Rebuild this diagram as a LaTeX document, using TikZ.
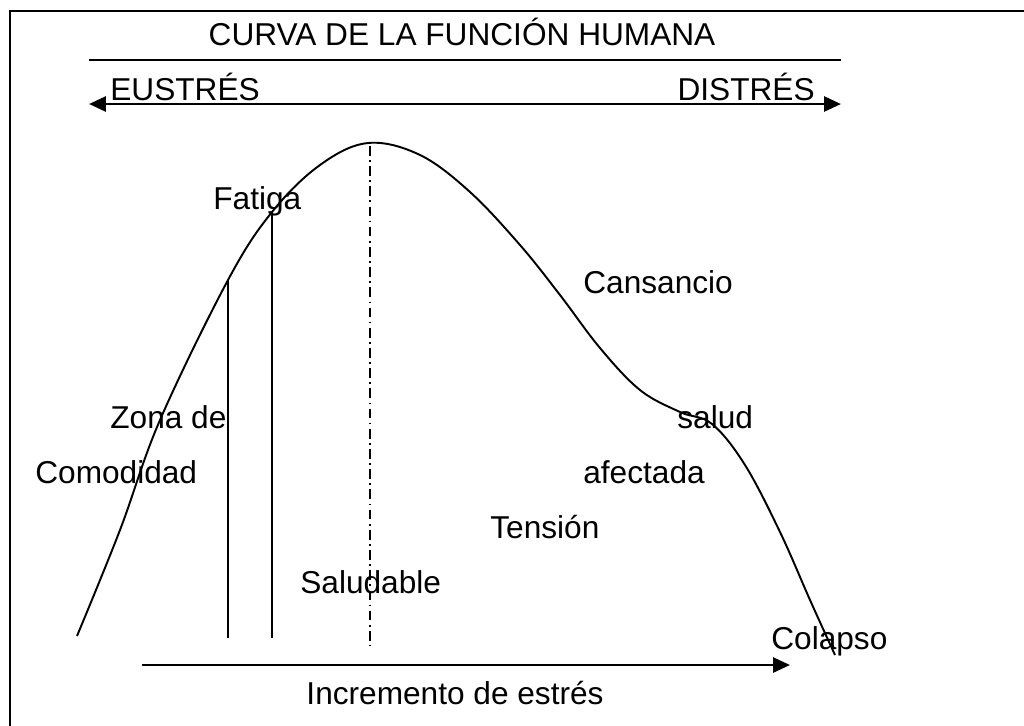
\documentclass[tikz,border=0pt]{standalone}
\usepackage{fontspec}
\setmainfont{Liberation Sans}
\usetikzlibrary{arrows.meta}

\begin{document}
\begin{tikzpicture}
      [x=0.02cm, y=-0.02cm,
      label/.style={inner sep=0pt, anchor=base west, font=\fontsize{18}{21}\selectfont},
      heading/.style={label, anchor=base},
      bigarrow/.style={line width=1.6pt, -{Triangle[length=0.34cm, width=0.3cm]}},
      marker/.style={line width=0.85pt},
      axisline/.style={line width=0.8pt, dash pattern=on 5.5pt off 2.5pt on 1pt off 2.5pt}]
      \useasboundingbox (0,0) rectangle (1024,725);
      \draw [line width=1.2pt] (10,11) rectangle (1040,745);
      % Place nodes
      \node [heading] (title) at (462,45) {CURVA DE LA FUNCIÓN HUMANA};
      \node [label] (eu) at (110,100) {EUSTRÉS};
      \node [label, anchor=base east] (dis) at (815,100) {DISTRÉS};
      \node [label] (fatiga) at (213,209) {Fatiga};
      \node [label] (cansancio) at (583,293) {Cansancio};
      \node [label] (zona) at (110,428) {Zona de};
      \node [label] (comodidad) at (35,483) {Comodidad};
      \node [label] (salud) at (677,428) {salud};
      \node [label] (afectada) at (583,483) {afectada};
      \node [label] (tension) at (490,538) {Tensión};
      \node [label] (saludable) at (300,593) {Saludable};
      \node [label] (colapso) at (771,649) {Colapso};
      \node [heading] (incremento) at (455,704) {Incremento de estrés};
      \coordinate (rulel) at (89,60);
      \coordinate (ruler) at (841,60);
      \coordinate (eul) at (89,104);
      \coordinate (disr) at (841,104);
      \coordinate (incl) at (142,665);
      \coordinate (incr) at (790,665);
      \coordinate (zonatop) at (228,280);
      \coordinate (zonabot) at (228,638);
      \coordinate (fatigatop) at (272,212);
      \coordinate (fatigabot) at (272,638);
      \coordinate (peak) at (370,146);
      \coordinate (peakbot) at (370,645);
      % Draw edges
      \draw [line width=1.1pt] (rulel) -- (ruler);
      \draw [bigarrow, {Triangle[length=0.34cm, width=0.3cm]}-{Triangle[length=0.34cm, width=0.3cm]}] (eul) -- (disr);
      \draw [bigarrow] (incl) -- (incr);
      \draw [marker] (zonatop) -- (zonabot);
      \draw [marker] (fatigatop) -- (fatigabot);
      \draw [axisline] (peak) -- (peakbot);
      % the curve
      \draw [line width=1.1pt] plot [smooth, tension=0.6] coordinates
        {(77,636) (120,530) (160,420) (228,280) (272,212) (320,165) (368,143)
         (420,155) (470,192) (520,245) (560,295) (600,348) (640,390) (680,412)
         (712,424) (745,465) (780,532) (810,600) (835,655)};
\end{tikzpicture}
\end{document}
